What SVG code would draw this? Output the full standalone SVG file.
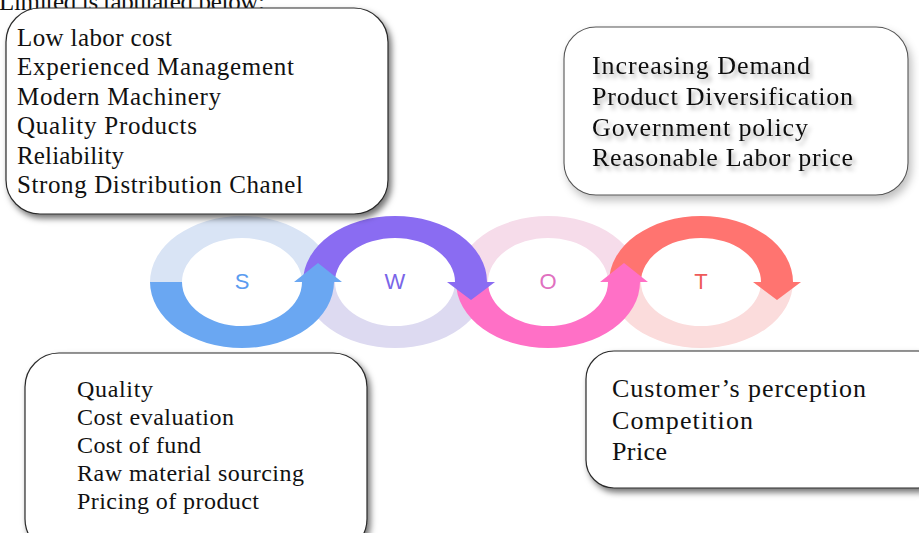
<svg xmlns="http://www.w3.org/2000/svg" width="919" height="533" viewBox="0 0 919 533">
  <style>
    .box { fill: #ffffff; stroke: #2a2a2a; stroke-width: 1.2; }
    .txt { font-family: "Liberation Serif", "DejaVu Serif", serif; fill: #111111; }
    .ltr { font-family: "Liberation Sans", "DejaVu Sans", sans-serif; font-size: 22px; text-anchor: middle; }
  </style>
  <defs>
    <filter id="shadow" x="-10%" y="-10%" width="125%" height="130%">
      <feGaussianBlur in="SourceAlpha" stdDeviation="3"/>
      <feOffset dx="3" dy="4" result="b"/>
      <feFlood flood-color="#000" flood-opacity="0.55"/>
      <feComposite in2="b" operator="in"/>
      <feMerge><feMergeNode/><feMergeNode in="SourceGraphic"/></feMerge>
    </filter>
    <filter id="softshadow" x="-10%" y="-10%" width="125%" height="130%">
      <feGaussianBlur in="SourceAlpha" stdDeviation="4"/>
      <feOffset dx="3" dy="5" result="b"/>
      <feFlood flood-color="#000" flood-opacity="0.25"/>
      <feComposite in2="b" operator="in"/>
      <feMerge><feMergeNode/><feMergeNode in="SourceGraphic"/></feMerge>
    </filter>
    <filter id="textshadow" x="-5%" y="-20%" width="115%" height="160%">
      <feGaussianBlur in="SourceAlpha" stdDeviation="2"/>
      <feOffset dx="3" dy="4" result="b"/>
      <feFlood flood-color="#000" flood-opacity="0.3"/>
      <feComposite in2="b" operator="in"/>
      <feMerge><feMergeNode/><feMergeNode in="SourceGraphic"/></feMerge>
    </filter>
  </defs>
  <rect width="919" height="533" fill="#ffffff"/>

  <text class="txt" x="-1" y="10" font-size="25" textLength="266">Limited is tabulated below:</text>

  <g id="cycle">
    <path d="M150,282 A92,66 0 0 1 334,282 L302,282 A60,44 0 0 0 182,282 Z" fill="#d9e4f5"/>
    <path d="M303,282 A92,66 0 0 0 487,282 L455,282 A60,44 0 0 1 335,282 Z" fill="#dddaf1"/>
    <path d="M456,282 A92,66 0 0 1 640,282 L608,282 A60,44 0 0 0 488,282 Z" fill="#f6dcea"/>
    <path d="M609,282 A92,66 0 0 0 793,282 L761,282 A60,44 0 0 1 641,282 Z" fill="#fbdcdc"/>
    <path d="M609,282 A92,66 0 0 1 793,282 L801,282 L777,300 L753,282 L761,282 A60,44 0 0 0 641,282 Z" fill="#ff7470"/>
    <path d="M456,282 A92,66 0 0 0 640,282 L648,282 L624,263 L600,282 L608,282 A60,44 0 0 1 488,282 Z" fill="#ff70c6"/>
    <path d="M303,282 A92,66 0 0 1 487,282 L495,282 L471,300 L447,282 L455,282 A60,44 0 0 0 335,282 Z" fill="#8a6cf2"/>
    <path d="M150,282 A92,66 0 0 0 334,282 L342,282 L318,263 L294,282 L302,282 A60,44 0 0 1 182,282 Z" fill="#6aa7f2"/>
  </g>

  <g id="node-s"><text class="ltr" x="242" y="289" fill="#5b9cf0">S</text></g>
  <g id="node-w"><text class="ltr" x="395" y="289" fill="#7a66e8">W</text></g>
  <g id="node-o"><text class="ltr" x="548" y="289" fill="#e070c0">O</text></g>
  <g id="node-t"><text class="ltr" x="701" y="289" fill="#ee5a5a">T</text></g>

  <g id="box-strengths">
    <rect class="box" x="6" y="8" width="382" height="206" rx="34" filter="url(#shadow)"/>
    <g class="txt" font-size="25">
      <text x="17" y="46" textLength="155">Low labor cost</text>
      <text x="17" y="75" textLength="277">Experienced Management</text>
      <text x="17" y="105" textLength="204">Modern Machinery</text>
      <text x="17" y="134" textLength="180">Quality Products</text>
      <text x="17" y="164" textLength="107">Reliability</text>
      <text x="17" y="193" textLength="286">Strong Distribution Chanel</text>
    </g>
  </g>

  <g id="box-opportunities">
    <rect x="564" y="27" width="344" height="168" rx="32" fill="#ffffff" stroke="#555555" stroke-width="1.1" filter="url(#softshadow)"/>
    <g class="txt" font-size="26" filter="url(#textshadow)">
      <text x="592" y="74" textLength="218">Increasing Demand</text>
      <text x="592" y="105" textLength="261">Product Diversification</text>
      <text x="592" y="136" textLength="216">Government policy</text>
      <text x="592" y="166" textLength="261">Reasonable Labor price</text>
    </g>
  </g>

  <g id="box-weaknesses">
    <rect class="box" x="25" y="353" width="342" height="200" rx="34" filter="url(#shadow)"/>
    <g class="txt" font-size="24">
      <text x="77" y="397" textLength="76">Quality</text>
      <text x="77" y="425" textLength="157">Cost evaluation</text>
      <text x="77" y="453" textLength="124">Cost of fund</text>
      <text x="77" y="481" textLength="227">Raw material sourcing</text>
      <text x="77" y="509" textLength="182">Pricing of product</text>
    </g>
  </g>

  <g id="box-threats">
    <rect class="box" x="586" y="351" width="360" height="137" rx="28" filter="url(#shadow)"/>
    <g class="txt" font-size="26">
      <text x="612" y="397" textLength="254">Customer’s perception</text>
      <text x="612" y="429" textLength="141">Competition</text>
      <text x="612" y="460" textLength="55">Price</text>
    </g>
  </g>
</svg>
